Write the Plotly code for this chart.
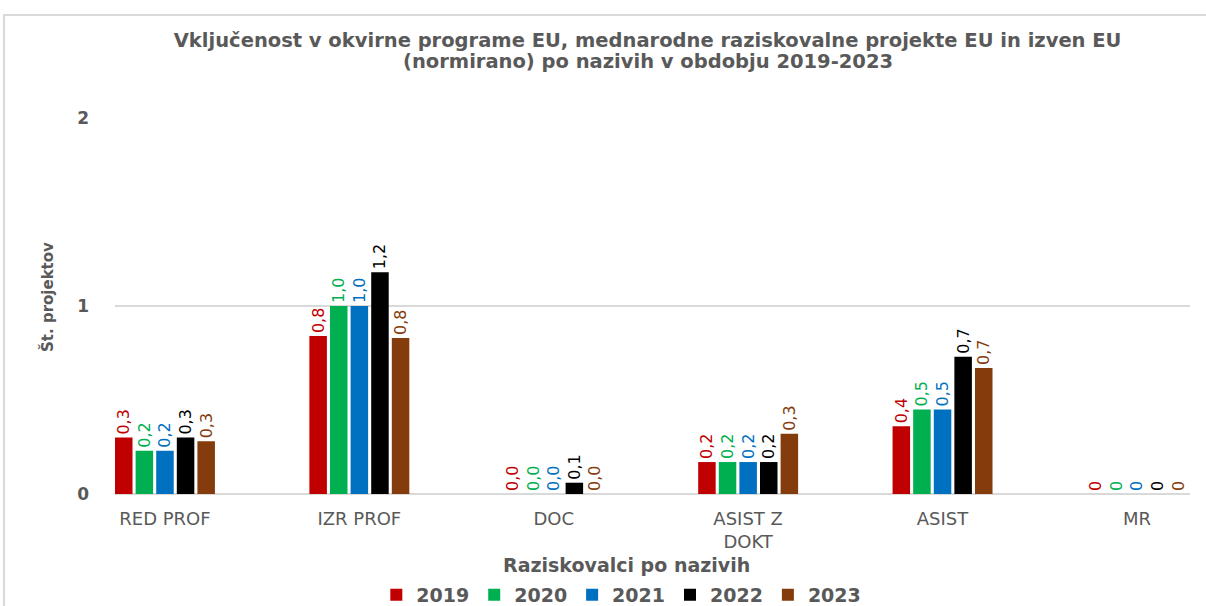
import plotly.graph_objects as go

categories = ["RED PROF", "IZR PROF", "DOC", "ASIST Z<br>DOKT", "ASIST", "MR"]
years = ["2019", "2020", "2021", "2022", "2023"]
values = {
    "2019": [0.30, 0.84, 0.0, 0.17, 0.36, 0],
    "2020": [0.23, 1.00, 0.0, 0.17, 0.45, 0],
    "2021": [0.23, 1.00, 0.0, 0.17, 0.45, 0],
    "2022": [0.30, 1.18, 0.06, 0.17, 0.73, 0],
    "2023": [0.28, 0.83, 0.0, 0.32, 0.67, 0],
}
label_decimals = [1, 1, 1, 1, 1, 0]
colors = ["#C00000", "#00B050", "#0070C0", "#000000", "#843C0C"]

title_line1 = "Vključenost v okvirne programe EU, mednarodne raziskovalne projekte EU in izven EU"
title_line2 = "(normirano) po nazivih v obdobju 2019-2023"
x_title = "Raziskovalci po nazivih"
y_title = "Št. projektov"

def fmt(v, d):
    return f"{v:.{d}f}".replace(".", ",")

FONT = "DejaVu Sans"
gray = "#595959"

fig = go.Figure()
for y, c in zip(years, colors):
    vals = values[y]
    fig.add_trace(go.Bar(
        x=categories, y=vals, name=y,
        marker=dict(color=c, line=dict(width=0)),
        text=[fmt(v, d) for v, d in zip(vals, label_decimals)],
        textposition="outside", textangle=-90,
        outsidetextfont=dict(color=c, size=16, family=FONT),
        constraintext="none",
        cliponaxis=False,
    ))

fig.update_layout(
    width=1206, height=606,
    margin=dict(l=115, r=16, t=118, b=112, autoexpand=False),
    paper_bgcolor="white", plot_bgcolor="white",
    barmode="group", bargap=0.47, bargroupgap=0.15,
    font=dict(family=FONT, color=gray),
    title=dict(text=title_line1, x=0.537, xanchor="center", y=1 - 40 / 606, yanchor="middle",
               font=dict(size=19.5, color=gray, family=FONT, weight="bold")),
    showlegend=True,
    legend=dict(orientation="h", x=0.471, xanchor="center", y=-0.2686, yanchor="middle",
                font=dict(size=19, color=gray, family=FONT, weight="bold"),
                itemwidth=30, tracegroupgap=0),
)
fig.update_xaxes(
    range=[-0.257, 5.273], showgrid=False, showline=False, zeroline=False, automargin=False,
    tickfont=dict(size=18, color=gray, family=FONT), ticks="", ticklabelstandoff=12,
)
fig.update_yaxes(
    range=[0, 2], tickvals=[0, 1, 2], ticktext=["0", "1", "2"], automargin=False,
    showgrid=True, gridcolor="#D9D9D9", gridwidth=1.5, zeroline=True, zerolinecolor="#D9D9D9",
    zerolinewidth=2, tickfont=dict(size=17, color=gray, weight="bold"), ticks="", ticklabelstandoff=25,
)
fig.add_annotation(text=title_line2, xref="paper", yref="paper", x=0.4956, y=1.149,
                   xanchor="center", yanchor="middle", showarrow=False,
                   font=dict(size=19.5, color=gray, family=FONT, weight="bold"))
fig.add_annotation(text=x_title, xref="paper", yref="paper", x=0.476, y=-0.189,
                   xanchor="center", yanchor="middle", showarrow=False,
                   font=dict(size=19, color=gray, family=FONT, weight="bold"))
fig.add_annotation(text=y_title, xref="paper", yref="paper", x=-0.0623, y=0.524,
                   xanchor="center", yanchor="middle", showarrow=False, textangle=-90,
                   font=dict(size=15, color=gray, family=FONT, weight="bold"))
fig.add_shape(type="rect", xref="paper", yref="paper",
              x0=-0.1033, x1=1.0186, y0=-0.31, y1=1.274,
              line=dict(color="#D9D9D9", width=2), fillcolor="rgba(0,0,0,0)", layer="below")

fig.write_html("out.html", config={"displayModeBar": False},
               post_script="document.body.style.margin='0';")
